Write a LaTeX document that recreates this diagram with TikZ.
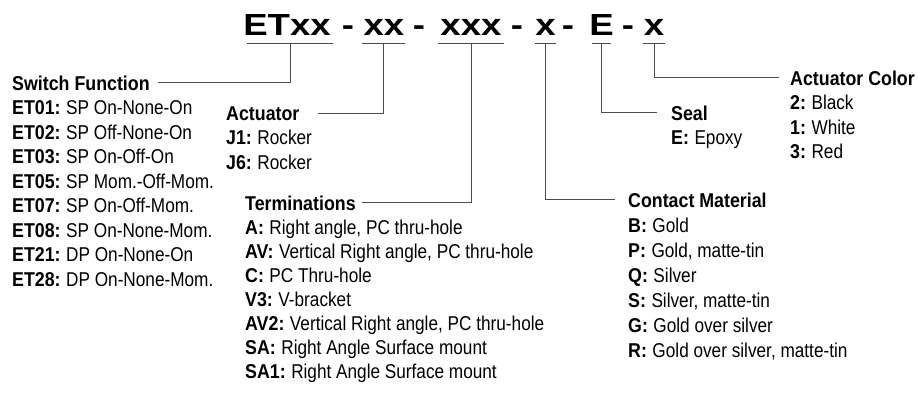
\documentclass[tikz,border=0pt]{standalone}
\usepackage{fontspec}
\newfontfamily\lbl[FakeStretch=0.86]{Liberation Sans}
\newfontfamily\hdg[FakeStretch=0.89]{Liberation Sans}
\newfontfamily\ttlf[FakeStretch=1.2]{Liberation Sans}
\newcommand\kb[1]{{\hdg\bfseries #1}}
\begin{document}
\begin{tikzpicture}[x=1pt,y=-1pt,
  hd/.style={font=\hdg\bfseries\fontsize{20}{24}\selectfont, anchor=base west, inner sep=0pt},
  it/.style={font=\lbl\fontsize{20}{24}\selectfont, anchor=base west, inner sep=0pt},
  ttl/.style={font=\ttlf\bfseries\fontsize{30.5}{32}\selectfont, anchor=base, inner sep=0pt},
  conn/.style={draw=black!70, line width=0.9pt},
  ul/.style={draw=black!70, line width=0.9pt}]
\useasboundingbox (0,0) rectangle (918,394);
% title
\node[ttl] (t1) at (287,35) {ETxx};
\node[ttl] (d1) at (348,35) {-};
\node[ttl] (t2) at (384,35) {xx};
\node[ttl] (d2) at (419,35) {-};
\node[ttl] (t3) at (471,35) {xxx};
\node[ttl] (d3) at (517,35) {-};
\node[ttl] (t4) at (545.5,35) {x};
\node[ttl] (d4) at (568,35) {-};
\node[ttl] (t5) at (601.5,35) {E};
\node[ttl] (d5) at (628,35) {-};
\node[ttl] (t6) at (654,35) {x};
\coordinate (u1) at (290,43.5);
\coordinate (u2) at (383.5,43.5);
\coordinate (u3) at (471,43.5);
\coordinate (u4) at (545.5,43.5);
\coordinate (u5) at (601.5,43.5);
\coordinate (u6) at (654,43.5);
\draw[ul] ([xshift=-43pt]u1) -- ([xshift=43pt]u1);
\draw[ul] ([xshift=-21.5pt]u2) -- ([xshift=21.5pt]u2);
\draw[ul] ([xshift=-33pt]u3) -- ([xshift=33pt]u3);
\draw[ul] ([xshift=-10.5pt]u4) -- ([xshift=10.5pt]u4);
\draw[ul] ([xshift=-9.5pt]u5) -- ([xshift=9.5pt]u5);
\draw[ul] ([xshift=-11pt]u6) -- ([xshift=11pt]u6);
% Switch Function
\node[hd] (sf) at (12,90) {Switch Function};
\foreach \k/\t [count=\i] in {ET01/{SP On-None-On},ET02/{SP Off-None-On},ET03/{SP On-Off-On},ET05/{SP Mom.-Off-Mom.},ET07/{SP On-Off-Mom.},ET08/{SP On-None-Mom.},ET21/{DP On-None-On},ET28/{DP On-None-Mom.}}
  \node[it] (sf\i) at (12,{90+\i*24.5}) {\kb{\k:}\hspace{5.5pt}\t};
% Actuator
\node[hd] (act) at (226,120) {Actuator};
\foreach \k/\t [count=\i] in {J1/Rocker,J6/Rocker}
  \node[it] (act\i) at (226,{120+\i*24.5}) {\kb{\k:}\hspace{5.5pt}\t};
% Terminations
\node[hd] (tm) at (245,210) {Terminations};
\foreach \k/\t [count=\i] in {A/{Right angle, PC thru-hole},AV/{Vertical Right angle, PC thru-hole},C/{PC Thru-hole},V3/{V-bracket},AV2/{Vertical Right angle, PC thru-hole},SA/{Right Angle Surface mount},SA1/{Right Angle Surface mount}}
  \node[it] (tm\i) at (245,{210+\i*24}) {\kb{\k:}\hspace{5.5pt}\t};
% Contact Material
\node[hd] (cm) at (628,207) {Contact Material};
\foreach \k/\t [count=\i] in {B/Gold,P/{Gold, matte-tin},Q/Silver,S/{Silver, matte-tin},G/{Gold over silver},R/{Gold over silver, matte-tin}}
  \node[it] (cm\i) at (628,{207+\i*25}) {\kb{\k:}\hspace{5.5pt}\t};
% Seal
\node[hd] (se) at (671,120) {Seal};
\node[it] (se1) at (671,144.5) {\kb{E:}\hspace{5.5pt}Epoxy};
% Actuator Color
\node[hd] (ac) at (790,85) {Actuator Color};
\foreach \k/\t [count=\i] in {2/Black,1/White,3/Red}
  \node[it] (ac\i) at (790,{85+\i*24.5}) {\kb{\k:}\hspace{5.5pt}\t};
% connectors
\draw[conn] (u1) |- ([xshift=8pt]sf.east);
\draw[conn] (u2) |- ([xshift=18pt]act.east);
\draw[conn] (u3) |- ([xshift=6pt]tm.east);
\draw[conn] (u4) |- ([xshift=-13pt]cm.west);
\draw[conn] (u5) |- ([xshift=-14pt]se.west);
\draw[conn] (u6) |- ([xshift=-11pt]ac.west);
\end{tikzpicture}
\end{document}
